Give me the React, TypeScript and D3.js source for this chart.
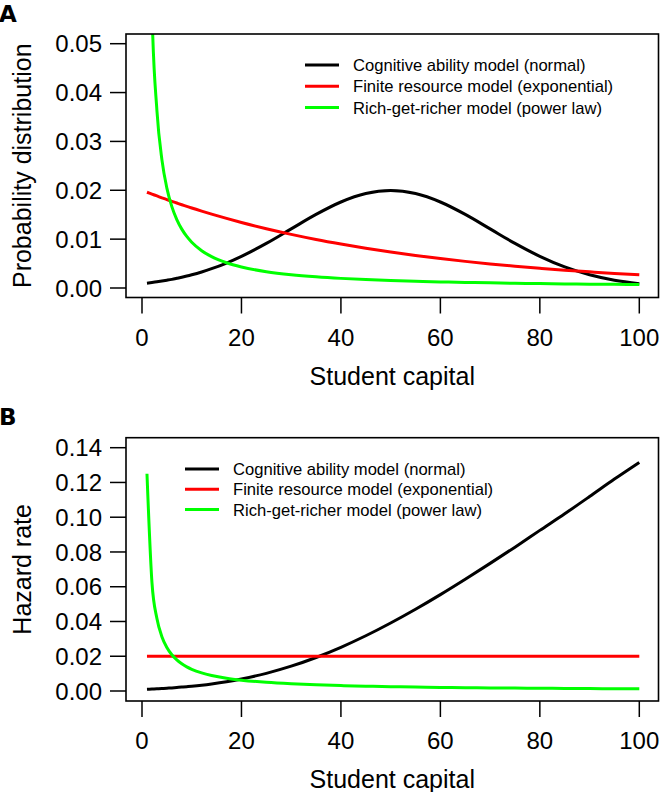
import React from 'react';
import * as d3 from 'd3';

// values
const capital = [1, 2, 3, 4, 5, 6, 7, 8, 9, 10, 12, 14, 17, 20, 25, 30, 35, 40, 45, 50, 55, 60, 65, 70, 75, 80, 85, 90, 95, 100];

const densityNormal = [0.00099, 0.00112, 0.00126, 0.00142, 0.00159, 0.00177, 0.00198, 0.0022, 0.00244, 0.0027, 0.00328, 0.00395, 0.00511, 0.00648, 0.00913, 0.0121, 0.01506, 0.0176, 0.01933, 0.01995, 0.01933, 0.0176, 0.01506, 0.0121, 0.00913, 0.00648, 0.00431, 0.0027, 0.00159, 0.00088];
const densityExponential = [0.0196, 0.01922, 0.01884, 0.01846, 0.0181, 0.01774, 0.01739, 0.01704, 0.01671, 0.01637, 0.01573, 0.01512, 0.01424, 0.01341, 0.01213, 0.01098, 0.00993, 0.00899, 0.00813, 0.00736, 0.00666, 0.00602, 0.00545, 0.00493, 0.00446, 0.00404, 0.00365, 0.00331, 0.00299, 0.00271];
const densityPower = [0.125, 0.05731, 0.03632, 0.02628, 0.02044, 0.01665, 0.014, 0.01205, 0.01055, 0.00937, 0.00764, 0.00642, 0.00516, 0.0043, 0.00334, 0.00272, 0.00229, 0.00197, 0.00173, 0.00153, 0.00138, 0.00125, 0.00114, 0.00105, 0.00097, 0.0009, 0.00084, 0.00079, 0.00075, 0.0007];

const hazardNormal = [0.001, 0.00113, 0.00127, 0.00143, 0.00161, 0.00179, 0.00201, 0.00224, 0.00249, 0.00276, 0.00337, 0.00409, 0.00536, 0.00692, 0.01016, 0.01428, 0.01929, 0.02514, 0.03178, 0.03912, 0.04703, 0.05545, 0.0643, 0.07343, 0.08278, 0.09243, 0.10199, 0.11189, 0.12193, 0.13153];
const hazardExponential = [0.02, 0.02, 0.02, 0.02, 0.02, 0.02, 0.02, 0.02, 0.02, 0.02, 0.02, 0.02, 0.02, 0.02, 0.02, 0.02, 0.02, 0.02, 0.02, 0.02, 0.02, 0.02, 0.02, 0.02, 0.02, 0.02, 0.02, 0.02, 0.02, 0.02];
const hazardPower = [0.125, 0.0625, 0.04167, 0.03125, 0.025, 0.02083, 0.01786, 0.01563, 0.01389, 0.0125, 0.01042, 0.00893, 0.00735, 0.00625, 0.005, 0.00417, 0.00357, 0.00313, 0.00278, 0.0025, 0.00227, 0.00208, 0.00192, 0.00179, 0.00167, 0.00156, 0.00147, 0.00139, 0.00132, 0.00125];

const xTicks = [0, 20, 40, 60, 80, 100];
const densityTicks = [0, 0.01, 0.02, 0.03, 0.04, 0.05];
const hazardTicks = [0, 0.02, 0.04, 0.06, 0.08, 0.1, 0.12, 0.14];

const legendLabels = [
  'Cognitive ability model (normal)',
  'Finite resource model (exponential)',
  'Rich-get-richer model (power law)',
];
const colors = ['#000000', '#ff0000', '#00ff00'];

const font = '"Liberation Sans", Arial, Helvetica, sans-serif';

interface PanelProps {
  id: string;
  letter: string;
  yLabel: string;
  yTicks: number[];
  series: number[][];
  boxTop: number;
  boxBottom: number;
  yTop: number;
  yBottom: number;
  legendX: number;
  legendY: number;
  legendGap: number;
}

const boxLeft = 126;
const boxRight = 658.5;

const Panel: React.FC<PanelProps> = ({
  id, letter, yLabel, yTicks, series, boxTop, boxBottom, yTop, yBottom, legendX, legendY, legendGap,
}) => {
  const x = d3.scaleLinear().domain([0, 100]).range([142, 639.3]);
  const y = d3.scaleLinear().domain([0, yTicks[yTicks.length - 1]]).range([yBottom, yTop]);
  const fmt = d3.format('.2f');

  const line = d3.line<number>()
    .x((_, i) => x(capital[i]))
    .y(d => y(d))
    .curve(d3.curveMonotoneX);

  return (
    <g>
      <defs>
        <clipPath id={`clip-${id}`}>
          <rect x={boxLeft} y={boxTop} width={boxRight - boxLeft} height={boxBottom - boxTop} />
        </clipPath>
      </defs>

      <text x={-1} y={boxTop - 12.5} fontFamily='"DejaVu Sans", sans-serif' fontWeight="bold" fontSize={23}>{letter}</text>

      <g clipPath={`url(#clip-${id})`}>
        {series.map((s, i) => (
          <path key={i} d={line(s) ?? ''} fill="none" stroke={colors[i]} strokeWidth={3} />
        ))}
      </g>

      <rect x={boxLeft} y={boxTop} width={boxRight - boxLeft} height={boxBottom - boxTop}
        fill="none" stroke="#000" strokeWidth={1.6} />

      {/* y axis */}
      {yTicks.map(t => (
        <g key={t}>
          <line x1={110} x2={boxLeft} y1={y(t)} y2={y(t)} stroke="#000" strokeWidth={1.5} />
          <text x={102} y={y(t)} dy="0.36em" textAnchor="end" fontFamily={font} fontSize={24}>{fmt(t)}</text>
        </g>
      ))}
      <text transform={`translate(31,${(boxTop + boxBottom) / 2}) rotate(-90)`} textAnchor="middle"
        fontFamily={font} fontSize={25}>{yLabel}</text>

      {/* x axis */}
      {xTicks.map(t => (
        <g key={t}>
          <line x1={x(t)} x2={x(t)} y1={boxBottom} y2={boxBottom + 16} stroke="#000" strokeWidth={1.5} />
          <text x={x(t)} y={boxBottom + 48} textAnchor="middle" fontFamily={font} fontSize={24}>{t}</text>
        </g>
      ))}
      <text x={(boxLeft + boxRight) / 2} y={boxBottom + 87} textAnchor="middle" fontFamily={font} fontSize={25}>
        Student capital
      </text>

      {/* legend */}
      {legendLabels.map((lab, i) => (
        <g key={lab}>
          <line x1={legendX} x2={legendX + 34} y1={legendY + i * legendGap} y2={legendY + i * legendGap}
            stroke={colors[i]} strokeWidth={3} />
          <text x={legendX + 48} y={legendY + i * legendGap} dy="0.36em" fontFamily={font} fontSize={16.6}>{lab}</text>
        </g>
      ))}
    </g>
  );
};

export default function App() {
  return (
    <svg width={660} height={792} style={{ position: 'absolute', left: 0, top: 0, background: '#fff' }}>
      <rect width={660} height={792} fill="#fff" />
      <Panel id="a" letter="A" yLabel="Probability distribution" yTicks={densityTicks}
        series={[densityNormal, densityExponential, densityPower]}
        boxTop={34} boxBottom={297.5} yTop={43.7} yBottom={288}
        legendX={305} legendY={65} legendGap={21.3} />
      <Panel id="b" letter="B" yLabel="Hazard rate" yTicks={hazardTicks}
        series={[hazardNormal, hazardExponential, hazardPower]}
        boxTop={437.7} boxBottom={701} yTop={447.7} yBottom={691}
        legendX={185} legendY={469} legendGap={20.3} />
    </svg>
  );
}
